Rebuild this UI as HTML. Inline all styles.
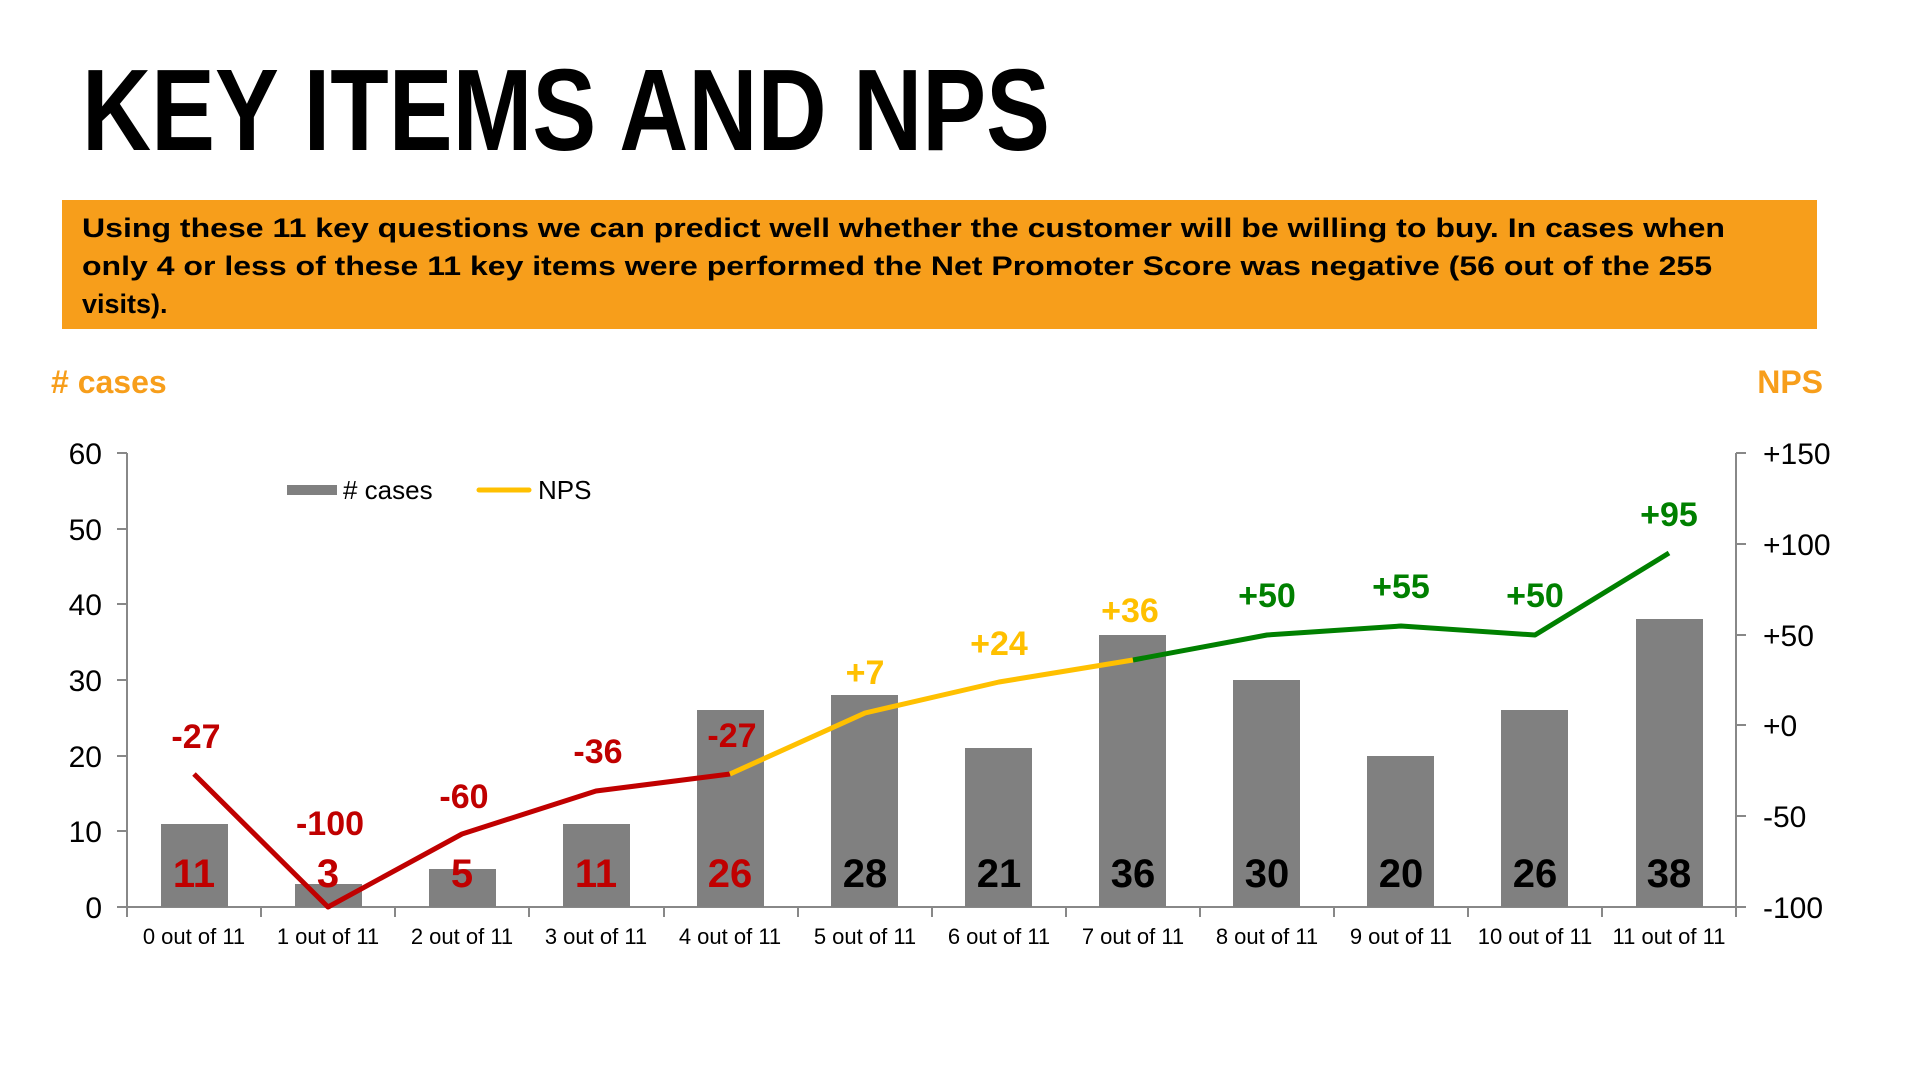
<!DOCTYPE html>
<html><head><meta charset="utf-8"><style>html,body{margin:0;padding:0;background:#fff}svg{display:block}</style></head>
<body>
<svg width="1920" height="1080" viewBox="0 0 1920 1080" xmlns="http://www.w3.org/2000/svg" font-family="Liberation Sans, Arial, sans-serif">
<rect width="1920" height="1080" fill="#fff"/>
<text x="82" y="150" font-size="116" font-weight="bold" textLength="968" lengthAdjust="spacingAndGlyphs" fill="#000">KEY ITEMS AND NPS</text>
<rect x="62" y="200" width="1755" height="129" fill="#F79E1B"/>
<g font-size="27" font-weight="bold" fill="#000">
<text x="82" y="237" textLength="1643" lengthAdjust="spacingAndGlyphs">Using these 11 key questions we can predict well whether the customer will be willing to buy. In cases when</text>
<text x="82" y="275" textLength="1630" lengthAdjust="spacingAndGlyphs">only 4 or less of these 11 key items were performed the Net Promoter Score was negative (56 out of the 255</text>
<text x="82" y="313">visits).</text>
</g>
<text x="51" y="393" font-size="32" font-weight="bold" fill="#F79E1B"># cases</text>
<text x="1823" y="393" font-size="32" font-weight="bold" fill="#F79E1B" text-anchor="end">NPS</text>

<g stroke="#888" stroke-width="2" fill="none">
<line x1="127" y1="453" x2="127" y2="907"/>
<line x1="1736" y1="453" x2="1736" y2="907"/>
<line x1="117" y1="907" x2="1746" y2="907"/>
<line x1="117" y1="453" x2="127" y2="453"/><line x1="117" y1="529" x2="127" y2="529"/><line x1="117" y1="604" x2="127" y2="604"/><line x1="117" y1="680" x2="127" y2="680"/><line x1="117" y1="756" x2="127" y2="756"/><line x1="117" y1="831" x2="127" y2="831"/>
<line x1="1736" y1="453" x2="1746" y2="453"/><line x1="1736" y1="544" x2="1746" y2="544"/><line x1="1736" y1="635" x2="1746" y2="635"/><line x1="1736" y1="725" x2="1746" y2="725"/><line x1="1736" y1="816" x2="1746" y2="816"/>
<line x1="261" y1="907" x2="261" y2="917"/><line x1="395" y1="907" x2="395" y2="917"/><line x1="529" y1="907" x2="529" y2="917"/><line x1="664" y1="907" x2="664" y2="917"/><line x1="798" y1="907" x2="798" y2="917"/><line x1="932" y1="907" x2="932" y2="917"/><line x1="1066" y1="907" x2="1066" y2="917"/><line x1="1200" y1="907" x2="1200" y2="917"/><line x1="1334" y1="907" x2="1334" y2="917"/><line x1="1468" y1="907" x2="1468" y2="917"/><line x1="1602" y1="907" x2="1602" y2="917"/><line x1="1736" y1="907" x2="1736" y2="917"/><line x1="127" y1="907" x2="127" y2="917"/>
</g>
<g font-size="30" fill="#000" text-anchor="end">
<text x="102" y="464">60</text><text x="102" y="540">50</text><text x="102" y="615">40</text><text x="102" y="691">30</text><text x="102" y="767">20</text><text x="102" y="842">10</text><text x="102" y="918">0</text>
</g>
<g font-size="30" fill="#000">
<text x="1763" y="464">+150</text><text x="1763" y="555">+100</text><text x="1763" y="646">+50</text><text x="1763" y="736">+0</text><text x="1763" y="827">-50</text><text x="1763" y="918">-100</text>
</g>
<g fill="#808080">
<rect x="161" y="824" width="67" height="83"/><rect x="295" y="884" width="67" height="23"/><rect x="429" y="869" width="67" height="38"/><rect x="563" y="824" width="67" height="83"/><rect x="697" y="710" width="67" height="197"/><rect x="831" y="695" width="67" height="212"/><rect x="965" y="748" width="67" height="159"/><rect x="1099" y="635" width="67" height="272"/><rect x="1233" y="680" width="67" height="227"/><rect x="1367" y="756" width="67" height="151"/><rect x="1501" y="710" width="67" height="197"/><rect x="1636" y="619" width="67" height="288"/>
</g>
<g font-size="22" fill="#000" text-anchor="middle">
<text x="194" y="944">0 out of 11</text><text x="328" y="944">1 out of 11</text><text x="462" y="944">2 out of 11</text><text x="596" y="944">3 out of 11</text><text x="730" y="944">4 out of 11</text><text x="865" y="944">5 out of 11</text><text x="999" y="944">6 out of 11</text><text x="1133" y="944">7 out of 11</text><text x="1267" y="944">8 out of 11</text><text x="1401" y="944">9 out of 11</text><text x="1535" y="944">10 out of 11</text><text x="1669" y="944">11 out of 11</text>
</g>
<g font-size="40" font-weight="bold" text-anchor="middle">
<g fill="#C00000"><text x="194" y="887">11</text><text x="328" y="887">3</text><text x="462" y="887">5</text><text x="596" y="887">11</text><text x="730" y="887">26</text></g>
<g fill="#000"><text x="865" y="887">28</text><text x="999" y="887">21</text><text x="1133" y="887">36</text><text x="1267" y="887">30</text><text x="1401" y="887">20</text><text x="1535" y="887">26</text><text x="1669" y="887">38</text></g>
</g>
<g fill="none" stroke-width="5" stroke-linejoin="round">
<polyline stroke="#C00000" points="194,774 328,907 462,834 596,791 730,774"/>
<polyline stroke="#FFC000" points="730,774 865,713 999,682 1133,660"/>
<polyline stroke="#008000" points="1133,660 1267,635 1401,626 1535,635 1669,553"/>
</g>
<g font-size="34" font-weight="bold" text-anchor="middle">
<g fill="#C00000"><text x="196" y="748">-27</text><text x="330" y="835">-100</text><text x="464" y="808">-60</text><text x="598" y="763">-36</text><text x="732" y="747">-27</text></g>
<g fill="#FFC000"><text x="865" y="684">+7</text><text x="999" y="655">+24</text><text x="1130" y="622">+36</text></g>
<g fill="#008000"><text x="1267" y="607">+50</text><text x="1401" y="598">+55</text><text x="1535" y="607">+50</text><text x="1669" y="526">+95</text></g>
</g>
<rect x="287" y="485" width="50" height="10" fill="#808080"/>
<text x="343" y="499" font-size="26" fill="#000"># cases</text>
<line x1="479" y1="490" x2="529" y2="490" stroke="#FFC000" stroke-width="5" stroke-linecap="round"/>
<text x="538" y="499" font-size="26" fill="#000">NPS</text>
</svg>
</body></html>
